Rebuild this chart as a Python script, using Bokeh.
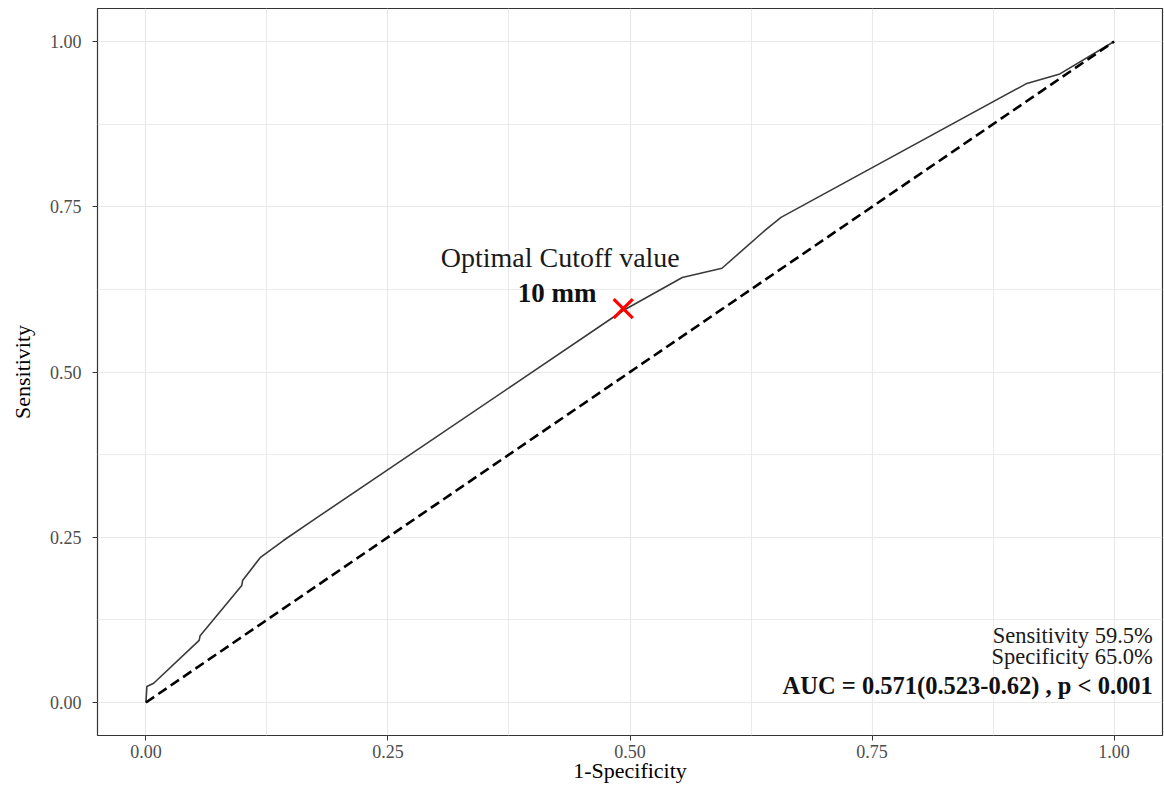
from bokeh.plotting import figure
from bokeh.models import FixedTicker, Range1d, Label
from bokeh.embed import file_html
from bokeh.resources import INLINE

# ---- data ----
roc_fpr = [0.0, 0.001, 0.008, 0.055, 0.056, 0.099, 0.100, 0.118, 0.142, 0.177,
           0.386, 0.493, 0.554, 0.595, 0.640, 0.656, 0.909, 0.944, 1.0]
roc_tpr = [0.0, 0.024, 0.029, 0.094, 0.101, 0.177, 0.185, 0.219, 0.245, 0.280,
           0.487, 0.593, 0.643, 0.657, 0.715, 0.734, 0.936, 0.951, 1.0]
ref_x = [0.0, 1.0]
ref_y = [0.0, 1.0]
cutoff_x = [0.493]
cutoff_y = [0.596]
tick_values = [0.0, 0.25, 0.5, 0.75, 1.0]
tick_labels = ["0.00", "0.25", "0.50", "0.75", "1.00"]
minor_values = [0.125, 0.375, 0.625, 0.875]

FONT = "Liberation Serif"

p = figure(width=1164, height=786, output_backend="svg", toolbar_location=None,
           x_range=Range1d(-0.05, 1.05), y_range=Range1d(-0.05, 1.05),
           min_border_left=97, min_border_right=2, min_border_top=8, min_border_bottom=51)
p.background_fill_color = "white"
p.border_fill_color = "white"
p.outline_line_color = "#333333"
p.outline_line_width = 1.2

for ax in (p.xaxis[0], p.yaxis[0]):
    ax.ticker = FixedTicker(ticks=tick_values, minor_ticks=minor_values)
    ax.major_label_overrides = {v: l for v, l in zip(tick_values, tick_labels)}
    ax.axis_line_color = None
    ax.major_tick_line_color = "#333333"
    ax.major_tick_out = 5
    ax.major_tick_in = 0
    ax.minor_tick_line_color = None
    ax.major_label_text_font = FONT
    ax.major_label_text_font_size = "18px"
    ax.major_label_text_color = "#4d4d4d"
    ax.axis_label_text_font = FONT
    ax.axis_label_text_font_size = "22px"
    ax.axis_label_text_font_style = "normal"
    ax.axis_label_text_color = "black"

p.xaxis.axis_label = "1-Specificity"
p.yaxis.axis_label = "Sensitivity"
p.xaxis.major_label_standoff = 4
p.xaxis.axis_label_standoff = -3
p.yaxis.major_label_standoff = 11
p.yaxis.axis_label_standoff = 12

for g in (p.xgrid[0], p.ygrid[0]):
    g.grid_line_color = "#e9e9e9"
    g.grid_line_width = 1.2
    g.minor_grid_line_color = "#e9e9e9"
    g.minor_grid_line_width = 0.9

p.line(roc_fpr, roc_tpr, line_color="#3a3a3a", line_width=1.6)
p.line(ref_x, ref_y, line_color="black", line_width=2.6, line_dash="10 5")
p.scatter(cutoff_x, cutoff_y, marker="x", size=27, line_color="#ff0000", line_width=3.2)

p.add_layout(Label(x=0.428, y=0.673, text="Optimal Cutoff value", text_align="center",
                   text_baseline="alphabetic", text_font=FONT, text_font_size="28px",
                   text_color="#1a1a1a"))
p.add_layout(Label(x=0.4655, y=0.619, text="10 mm", text_align="right",
                   text_baseline="alphabetic", text_font=FONT, text_font_size="27px",
                   text_font_style="bold", text_color="#111111"))
p.add_layout(Label(x=1.040, y=0.102, text="Sensitivity 59.5%", text_align="right",
                   text_baseline="alphabetic", text_font=FONT, text_font_size="22.5px",
                   text_color="#1a1a1a"))
p.add_layout(Label(x=1.040, y=0.0695, text="Specificity 65.0%", text_align="right",
                   text_baseline="alphabetic", text_font=FONT, text_font_size="22.5px",
                   text_color="#1a1a1a"))
p.add_layout(Label(x=1.040, y=0.026, text="AUC = 0.571(0.523-0.62) , p < 0.001", text_align="right",
                   text_baseline="alphabetic", text_font=FONT, text_font_size="24.5px",
                   text_font_style="bold", text_color="#111111"))

open("out.html", "w").write(file_html(p, INLINE))
